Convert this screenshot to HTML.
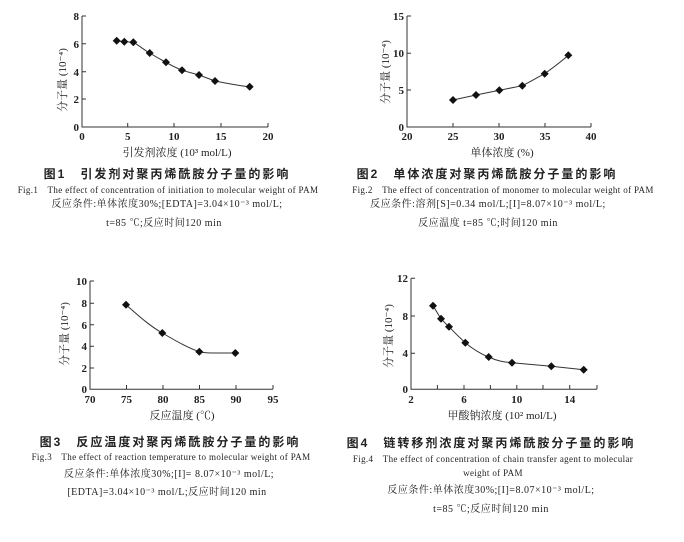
<!DOCTYPE html>
<html><head><meta charset="utf-8"><style>
html,body{margin:0;padding:0;background:#fff}
svg{display:block}
text{font-family:"Liberation Serif","Noto Serif CJK SC",serif;fill:#222}
.t{font-size:11px;font-weight:bold}
.c{font-family:"Liberation Sans","Noto Sans CJK SC",sans-serif;font-size:12px;font-weight:bold;letter-spacing:2px}
.e{font-size:9px;letter-spacing:0.35px}
.k{font-size:10px;letter-spacing:0.5px}
.y{font-family:"Liberation Sans","Noto Sans CJK SC",sans-serif;font-size:11px}
</style></head><body>
<svg width="684" height="542" viewBox="0 0 684 542" xmlns="http://www.w3.org/2000/svg">
<defs><path id="d" d="M0,-4L4,0L0,4L-4,0Z" fill="#111"/></defs>
<g stroke="#333" stroke-width="1" fill="none">
<path d="M82,16V127H268"/>
<path d="M82,16h4M82,43.7h4M82,71.7h4M82,99h4M127.7,127v-4M174,127v-4M221,127v-4M268,127v-4"/>
<path d="M116.7,40.7L124.3,41.7L133.3,42.3C140,46 144,50 149.7,53C156,57 160,59 166,62.3C172,66 177,68 182,70.3L199,75L215,81C230,84 240,86 249.7,86.7"/>
<path d="M407,16V127H591"/>
<path d="M407,16h4M407,53.3h4M407,90h4M453,127v-4M499,127v-4M545,127v-4M591,127v-4"/>
<path d="M453,100L476,95L499.3,90.3L522.3,85.7C532,81 538,77 544.7,73.7C554,67 561,62 568.3,55.3"/>
<path d="M90,281V389.3H273"/>
<path d="M90,281h4M90,303.3h4M90,324.7h4M90,346.3h4M90,368h4M126.5,389v-4M163,389v-4M199.5,389v-4M236,389v-4M273,389v-4"/>
<path d="M126,304.7C140,317 150,326 162.3,333C176,341 188,348 199.3,351.7C206,353.5 212,353 235.3,353"/>
<path d="M411,278.3V389.3H597"/>
<path d="M411,278.3h4M411,316h4M411,353.3h4M437.4,389v-4M464,389v-4M490.4,389v-4M516.8,389v-4M543,389v-4M569.7,389v-4M597,389v-4"/>
<path d="M433,305.7C437,312 439,316 441,318.7C445,323 447,325 449,326.7C455,333 460,338 465.3,342.7C474,350 481,354 488.7,357C497,361 504,362 512,362.7L551.3,366.3L583.7,369.7"/>
</g>
<g>
<use href="#d" x="116.7" y="40.7"/><use href="#d" x="124.3" y="41.7"/><use href="#d" x="133.3" y="42.3"/><use href="#d" x="149.7" y="53"/><use href="#d" x="166" y="62.3"/><use href="#d" x="182" y="70.3"/><use href="#d" x="199" y="75"/><use href="#d" x="215" y="81"/><use href="#d" x="249.7" y="86.7"/>
<use href="#d" x="453" y="100"/><use href="#d" x="476" y="95"/><use href="#d" x="499.3" y="90.3"/><use href="#d" x="522.3" y="85.7"/><use href="#d" x="544.7" y="73.7"/><use href="#d" x="568.3" y="55.3"/>
<use href="#d" x="126" y="304.7"/><use href="#d" x="162.3" y="333"/><use href="#d" x="199.3" y="351.7"/><use href="#d" x="235.3" y="353"/>
<use href="#d" x="433" y="305.7"/><use href="#d" x="441" y="318.7"/><use href="#d" x="449" y="326.7"/><use href="#d" x="465.3" y="342.7"/><use href="#d" x="488.7" y="357"/><use href="#d" x="512" y="362.7"/><use href="#d" x="551.3" y="366.3"/><use href="#d" x="583.7" y="369.7"/>
</g>
<g class="t" text-anchor="end">
<text x="79" y="20">8</text><text x="79" y="48">6</text><text x="79" y="76">4</text><text x="79" y="103">2</text><text x="79" y="131">0</text>
<text x="404" y="20">15</text><text x="404" y="57">10</text><text x="404" y="94">5</text><text x="404" y="131">0</text>
<text x="87" y="285">10</text><text x="87" y="307">8</text><text x="87" y="329">6</text><text x="87" y="350">4</text><text x="87" y="372">2</text><text x="87" y="393">0</text>
<text x="408" y="282">12</text><text x="408" y="320">8</text><text x="408" y="357">4</text><text x="408" y="393">0</text>
</g>
<g class="t" text-anchor="middle">
<text x="82" y="140">0</text><text x="127.7" y="140">5</text><text x="174" y="140">10</text><text x="221" y="140">15</text><text x="268" y="140">20</text>
<text x="407" y="140">20</text><text x="453" y="140">25</text><text x="499" y="140">30</text><text x="545" y="140">35</text><text x="591" y="140">40</text>
<text x="90" y="403">70</text><text x="126.5" y="403">75</text><text x="163" y="403">80</text><text x="199.5" y="403">85</text><text x="236" y="403">90</text><text x="273" y="403">95</text>
<text x="411" y="403">2</text><text x="464" y="403">6</text><text x="516.8" y="403">10</text><text x="569.7" y="403">14</text>
</g>
<g class="y" text-anchor="middle">
<text x="177" y="156">引发剂浓度 (10³ mol/L)</text>
<text x="502" y="156">单体浓度 (%)</text>
<text x="182" y="419">反应温度 (℃)</text>
<text x="502" y="419">甲酸钠浓度 (10² mol/L)</text>
<text transform="translate(66,80) rotate(-90)">分子量 (10⁻⁴)</text>
<text transform="translate(389,72) rotate(-90)">分子量 (10⁻⁴)</text>
<text transform="translate(68,334) rotate(-90)">分子量 (10⁻⁴)</text>
<text transform="translate(392,336) rotate(-90)">分子量 (10⁻⁴)</text>
</g>
<g text-anchor="middle">
<text class="c" x="167" y="178">图1　引发剂对聚丙烯酰胺分子量的影响</text>
<text class="e" x="168" y="193">Fig.1　The effect of concentration of initiation to molecular weight of PAM</text>
<text class="k" x="167" y="207">反应条件:单体浓度30%;[EDTA]=3.04×10⁻³ mol/L;</text>
<text class="k" x="164" y="226">t=85 ℃;反应时间120 min</text>

<text class="c" x="487" y="178">图2　单体浓度对聚丙烯酰胺分子量的影响</text>
<text class="e" x="503" y="193">Fig.2　The effect of concentration of monomer to molecular weight of PAM</text>
<text class="k" x="488" y="207">反应条件:溶剂[S]=0.34 mol/L;[I]=8.07×10⁻³ mol/L;</text>
<text class="k" x="488" y="226">反应温度 t=85 ℃;时间120 min</text>

<text class="c" x="170" y="446">图3　反应温度对聚丙烯酰胺分子量的影响</text>
<text class="e" x="171" y="460">Fig.3　The effect of reaction temperature to molecular weight of PAM</text>
<text class="k" x="169" y="477">反应条件:单体浓度30%;[I]= 8.07×10⁻³ mol/L;</text>
<text class="k" x="167" y="495">[EDTA]=3.04×10⁻³ mol/L;反应时间120 min</text>

<text class="c" x="491" y="447">图4　链转移剂浓度对聚丙烯酰胺分子量的影响</text>
<text class="e" x="493" y="462">Fig.4　The effect of concentration of chain transfer agent to molecular</text>
<text class="e" x="493" y="476">weight of PAM</text>
<text class="k" x="491" y="493">反应条件:单体浓度30%;[I]=8.07×10⁻³ mol/L;</text>
<text class="k" x="491" y="512">t=85 ℃;反应时间120 min</text>
</g>
</svg>
</body></html>
